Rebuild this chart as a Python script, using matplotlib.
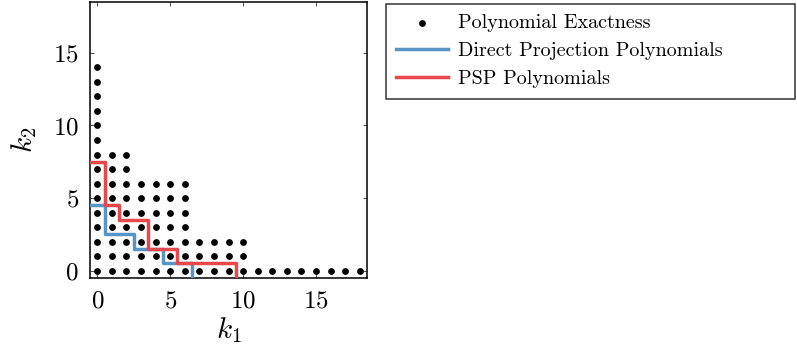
import matplotlib
matplotlib.use("Agg")
import matplotlib.pyplot as plt
import numpy as np

plt.rcParams['font.family'] = 'serif'
plt.rcParams['font.serif'] = ['cmr10']
plt.rcParams['mathtext.fontset'] = 'cm'
plt.rcParams['axes.unicode_minus'] = False
plt.rcParams['axes.formatter.use_mathtext'] = True

# Polynomial exactness: max k2 for each k1
k1_values = list(range(19))
k2_max = [14, 8, 8, 6, 6, 6, 6, 2, 2, 2, 2, 0, 0, 0, 0, 0, 0, 0, 0]

# Staircase boundaries
direct_edges = [-0.5, 0.5, 2.5, 4.5, 6.5]
direct_levels = [4.5, 2.5, 1.5, 0.5]
psp_edges = [-0.5, 0.5, 1.5, 3.5, 5.5, 9.5]
psp_levels = [7.5, 4.5, 3.5, 1.5, 0.5]

xticks = [0, 5, 10, 15]
yticks = [0, 5, 10, 15]

blue = '#5895c5'
red = '#e8474b'

fig = plt.figure(figsize=(7.97, 3.56), dpi=100)
ax = fig.add_axes([90/797, 1-278/356, 277/797, 276/356])

px, py = [], []
for k1, m in zip(k1_values, k2_max):
    for k2 in range(m + 1):
        px.append(k1)
        py.append(k2)
ax.scatter(px, py, s=24, color='black', linewidths=0, label='Polynomial Exactness', zorder=2)

floor = -0.5
ax.plot(direct_edges, direct_levels + [floor], drawstyle='steps-post', color=blue, lw=2.5,
        label='Direct Projection Polynomials', zorder=3)
ax.plot(psp_edges, psp_levels + [floor], drawstyle='steps-post', color=red, lw=2.5,
        label='PSP Polynomials', zorder=4)

ax.set_xlim(-0.5, 18.5)
ax.set_ylim(-0.5, 18.5)
ax.set_xticks(xticks)
ax.set_yticks(yticks)
ax.tick_params(direction='in', length=3, width=0.8, top=True, right=True,
               labelsize=18, colors='#555555', labelcolor='black')
ax.tick_params(axis='x', pad=9)
ax.tick_params(axis='y', pad=8)
for s in ax.spines.values():
    s.set_linewidth(1.1)
ax.set_xlabel(r'$k_1$', fontsize=21, labelpad=2)
ax.set_ylabel(r'$k_2$', fontsize=21, labelpad=10)

h, l = ax.get_legend_handles_labels()
leg = fig.legend(h, l, loc='upper left', bbox_to_anchor=(386/797, 1-97/356, 409/797, 93/356),
                 mode='expand', fontsize=14.5, frameon=True, fancybox=False,
                 edgecolor='black', borderaxespad=0, handlelength=2.6, handletextpad=0.5,
                 labelspacing=0.5, borderpad=0.5)
leg.get_frame().set_linewidth(1.1)

fig.savefig('out.png', dpi=100)
